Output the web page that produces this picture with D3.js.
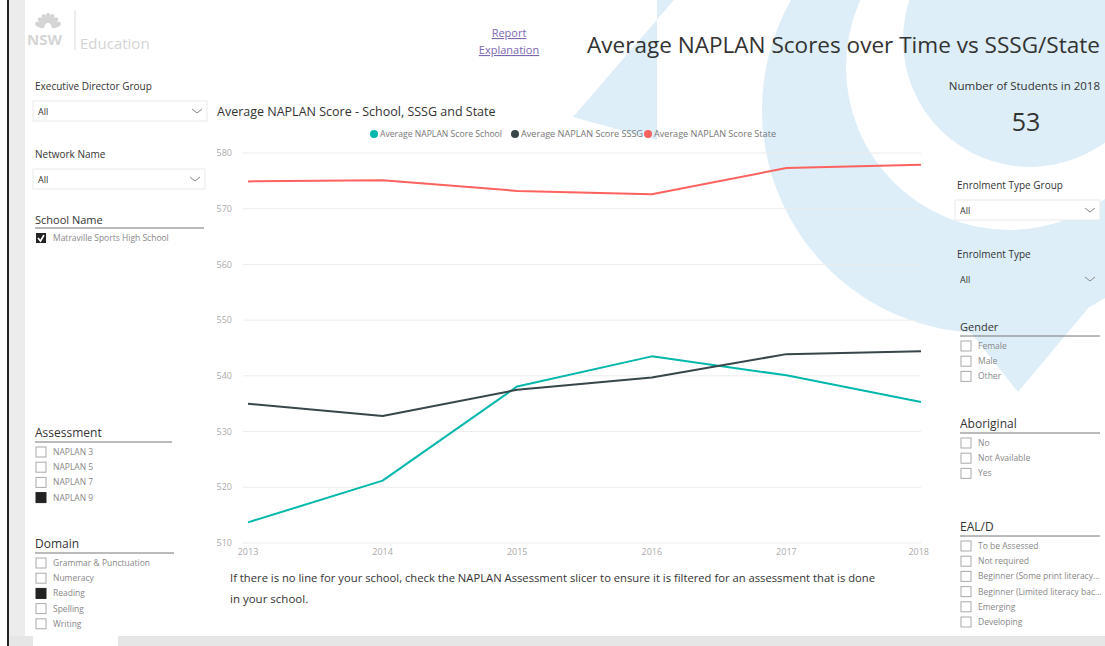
<!DOCTYPE html>
<html>
<head>
<meta charset="utf-8">
<script src="https://cdn.jsdelivr.net/npm/d3@7"></script>
<style>
body { margin: 0; background: #fff; overflow: hidden; }
svg text { font-family: "Segoe UI", "Open Sans", sans-serif; }
</style>
</head>
<body>
<svg id="page" width="1105" height="646"></svg>
<script>
// valores
var years = [2013, 2014, 2015, 2016, 2017, 2018];
var schoolScore = [513.7, 521.2, 538.1, 543.5, 540.1, 535.3];
var sssgScore = [535.0, 532.8, 537.5, 539.7, 543.9, 544.4];
var stateScore = [574.9, 575.1, 573.2, 572.6, 577.3, 577.9];
var seriesNames = ["Average NAPLAN Score School", "Average NAPLAN Score SSSG", "Average NAPLAN Score State"];
var seriesColors = ["#01b8aa", "#374649", "#fd625e"];
var yTicks = [510, 520, 530, 540, 550, 560, 570, 580];

// slicers
var assessmentItems = ["NAPLAN 3", "NAPLAN 5", "NAPLAN 7", "NAPLAN 9"];
var domainItems = ["Grammar & Punctuation", "Numeracy", "Reading", "Spelling", "Writing"];
var genderItems = ["Female", "Male", "Other"];
var aboriginalItems = ["No", "Not Available", "Yes"];
var ealdItems = ["To be Assessed", "Not required", "Beginner (Some print literacy...", "Beginner (Limited literacy bac...", "Emerging", "Developing"];
var studentCount = 53;

var svg = d3.select("#page");
var blue = "#ddeef8";

/* FONDO */
var bg = svg.append("g");
bg.append("circle").attr("cx", 985).attr("cy", 110).attr("r", 223).style("fill", blue);
bg.append("polygon").attr("points", "945,300 1095,300 1018,392").style("fill", blue);
bg.append("circle").attr("cx", 1009).attr("cy", 67).attr("r", 163).style("fill", "#fff");
bg.append("circle").attr("cx", 1030).attr("cy", 40).attr("r", 127).style("fill", blue);
bg.append("polygon").attr("points", "674,0 573,117 657,140 657,0").style("fill", blue);

// borde izquierdo y barra de abajo
svg.append("rect").attr("x", 9).attr("y", 0).attr("width", 16).attr("height", 646).style("fill", "#ececec");
svg.append("rect").attr("x", 7).attr("y", 0).attr("width", 2).attr("height", 646).style("fill", "#222");
svg.append("rect").attr("x", 9).attr("y", 636).attr("width", 1096).attr("height", 10).style("fill", "#e6e6e6");
svg.append("rect").attr("x", 33).attr("y", 636).attr("width", 85).attr("height", 10).style("fill", "#fff");

/* LOGO */
var logo = svg.append("g").style("opacity", 0.35);
d3.range(7).forEach(function(i) {
    var a = -Math.PI / 2 + (i - 3) * 0.38;
    logo.append("ellipse")
        .attr("cx", 48 + Math.cos(a) * 9).attr("cy", 30 + Math.sin(a) * 12)
        .attr("rx", 2.5).attr("ry", 5)
        .attr("transform", "rotate(" + ((i - 3) * 22) + "," + (48 + Math.cos(a) * 9) + "," + (30 + Math.sin(a) * 12) + ")")
        .style("fill", "#888");
});
logo.append("text").attr("x", 27).attr("y", 45).text("NSW")
    .style("font-size", "15px").style("font-weight", "bold").style("fill", "#888");
logo.append("line").attr("x1", 75).attr("x2", 75).attr("y1", 10).attr("y2", 50).style("stroke", "#999");
svg.append("text").attr("x", 80).attr("y", 49).text("Education")
    .style("font-size", "15px").style("fill", "#d4d4d4");

/* CABECERA */
var link = svg.append("g").style("fill", "#7d68b3").style("font-size", "11px")
    .style("text-decoration", "underline").attr("text-anchor", "middle");
link.append("text").attr("x", 509).attr("y", 37).text("Report");
link.append("text").attr("x", 509).attr("y", 54).text("Explanation");

svg.append("text").attr("x", 587).attr("y", 53)
    .text("Average NAPLAN Scores over Time vs SSSG/State")
    .attr("textLength", 513).attr("lengthAdjust", "spacingAndGlyphs")
    .style("font-size", "22px").style("fill", "#333");
svg.append("text").attr("x", 1100).attr("y", 90).attr("text-anchor", "end")
    .text("Number of Students in 2018").style("font-size", "11.5px").style("fill", "#333");
svg.append("text").attr("x", 1026).attr("y", 131).attr("text-anchor", "middle")
    .text(studentCount).style("font-size", "25px").style("fill", "#333");

/* SLICERS */
function dropdown(x, y, w, title, boxed) {
    var g = svg.append("g");
    g.append("text").attr("x", x + 2).attr("y", y).text(title).style("font-size", "10px").style("fill", "#333");
    if (boxed) {
        g.append("rect").attr("x", x).attr("y", y + 11).attr("width", w).attr("height", 20)
            .style("fill", "#fff").style("stroke", "#eaeaea");
    }
    g.append("text").attr("x", x + 5).attr("y", y + 25).text("All").style("font-size", "9px").style("fill", "#333");
    var cx = x + w - 10, cy = y + 21;
    g.append("polyline").attr("points", (cx - 5) + "," + (cy - 2) + " " + cx + "," + (cy + 2) + " " + (cx + 5) + "," + (cy - 2))
        .style("fill", "none").style("stroke", "#888");
}

function checklist(x, y, w, title, items, selected, titleSize) {
    var g = svg.append("g");
    g.append("text").attr("x", x).attr("y", y).text(title)
        .style("font-size", titleSize + "px").style("fill", "#333");
    g.append("line").attr("x1", x).attr("x2", x + w).attr("y1", y + 5).attr("y2", y + 5)
        .style("stroke", "#777");
    var row = g.selectAll(".row").data(items).enter().append("g")
        .attr("transform", function(d, i) { return "translate(" + x + "," + (y + 18 + i * 15.2) + ")"; });
    row.append("rect").attr("x", 1).attr("y", -8).attr("width", 10).attr("height", 10)
        .style("fill", function(d) { return d == selected ? "#222" : "#fff"; })
        .style("stroke", function(d) { return d == selected ? "#222" : "#aaa"; });
    row.append("text").attr("x", 18).attr("y", 0).text(function(d) { return d; })
        .style("font-size", "8.5px").style("fill", "#888");
}

dropdown(33, 90, 174, "Executive Director Group", true);
dropdown(33, 158, 172, "Network Name", true);

// school name con su casilla marcada
svg.append("text").attr("x", 35).attr("y", 224).text("School Name").style("font-size", "11px").style("fill", "#333");
svg.append("line").attr("x1", 35).attr("x2", 204).attr("y1", 228).attr("y2", 228).style("stroke", "#777");
svg.append("rect").attr("x", 36).attr("y", 233).attr("width", 10).attr("height", 10).style("fill", "#222");
svg.append("polyline").attr("points", "38,238 40.5,241 44,235").style("fill", "none").style("stroke", "#fff").style("stroke-width", 1.6);
svg.append("text").attr("x", 53).attr("y", 241).text("Matraville Sports High School").style("font-size", "8.5px").style("fill", "#888");

checklist(35, 437, 137, "Assessment", assessmentItems, "NAPLAN 9", 12);
checklist(35, 548, 139, "Domain", domainItems, "Reading", 12);

dropdown(955, 189, 145, "Enrolment Type Group", true);
dropdown(955, 258, 145, "Enrolment Type", false);
checklist(960, 331, 140, "Gender", genderItems, null, 11);
checklist(960, 428, 140, "Aboriginal", aboriginalItems, null, 12);
checklist(960, 531, 140, "EAL/D", ealdItems, null, 12);

/* GRAFICO DE LINEAS */
var x = d3.scalePoint().domain(years).range([248, 921]);
var y = d3.scaleLinear().domain([510, 580]).range([543, 153]);

svg.append("text").attr("x", 217).attr("y", 116)
    .text("Average NAPLAN Score - School, SSSG and State")
    .style("font-size", "12.5px").style("fill", "#333");

// leyenda
var legendX = [374, 515, 648];
var leg = svg.selectAll(".leg").data(seriesNames).enter().append("g")
    .attr("class", "leg")
    .attr("transform", function(d, i) { return "translate(" + legendX[i] + ",134)"; });
leg.append("circle").attr("r", 4).style("fill", function(d, i) { return seriesColors[i]; });
leg.append("text").attr("x", 6).attr("y", 3).text(function(d) { return d; })
    .attr("textLength", 122).attr("lengthAdjust", "spacingAndGlyphs")
    .style("font-size", "8.5px").style("fill", "#777");

// rejilla y ejes
svg.append("g").selectAll("line").data(yTicks).enter().append("line")
    .attr("x1", 243).attr("x2", 921)
    .attr("y1", function(d) { return y(d); }).attr("y2", function(d) { return y(d); })
    .style("stroke", "#ececec");

svg.append("g").selectAll("text").data(yTicks).enter().append("text")
    .attr("x", 232).attr("y", function(d) { return y(d); }).attr("dy", "0.35em")
    .attr("text-anchor", "end").text(function(d) { return d; })
    .style("font-size", "9px").style("fill", "#aaa");

svg.append("g").selectAll("text").data(years).enter().append("text")
    .attr("x", function(d) { return x(d); }).attr("y", 555)
    .attr("text-anchor", function(d, i) { return i == years.length - 1 ? "end" : "middle"; })
    .attr("dx", function(d, i) { return i == years.length - 1 ? 8 : 0; })
    .text(function(d) { return d; })
    .style("font-size", "9px").style("fill", "#aaa");

var line = d3.line()
    .x(function(d) { return x(d.year); })
    .y(function(d) { return y(d.v); });

[schoolScore, sssgScore, stateScore].forEach(function(vals, s) {
    var pts = years.map(function(yr, i) { return {year: yr, v: vals[i]}; });
    svg.append("path").datum(pts)
        .attr("d", line)
        .style("fill", "none")
        .style("stroke", seriesColors[s])
        .style("stroke-width", 2)
        .style("stroke-linejoin", "round");
});

// nota al pie
var note = svg.append("g").style("font-size", "11.5px").style("fill", "#333");
note.append("text").attr("x", 230).attr("y", 582)
    .text("If there is no line for your school, check the NAPLAN Assessment slicer to ensure it is filtered for an assessment that is done")
    .attr("textLength", 645).attr("lengthAdjust", "spacingAndGlyphs");
note.append("text").attr("x", 230).attr("y", 603).text("in your school.");
</script>
</body>
</html>
